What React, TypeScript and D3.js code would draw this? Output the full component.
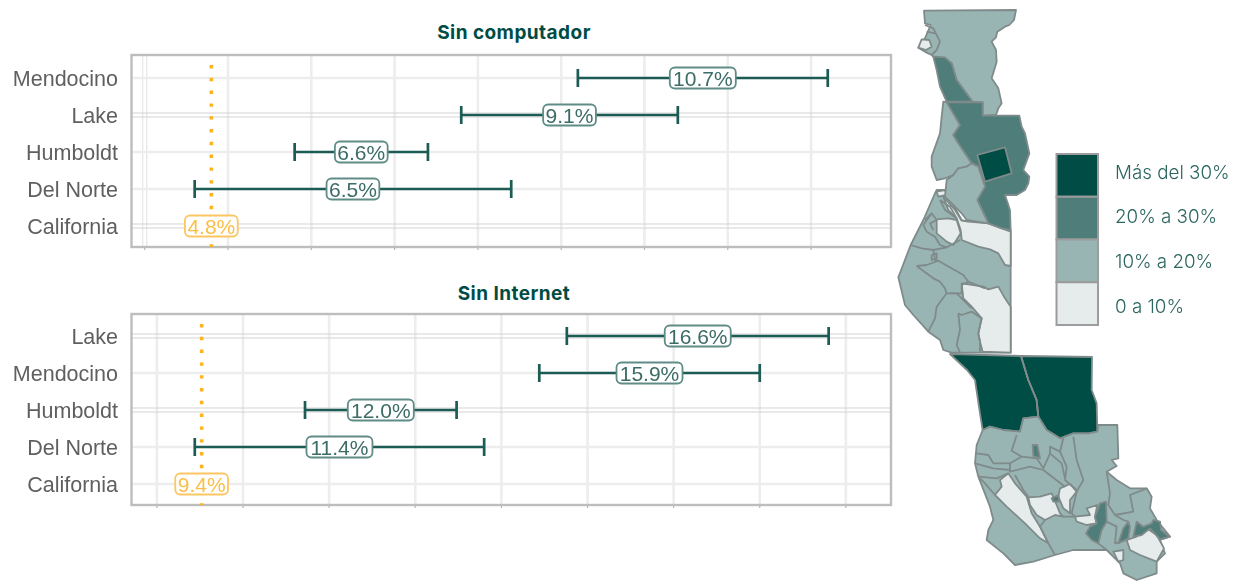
import React from "react";
import * as d3 from "d3";

type Pt = [number, number];
type Row = { name: string; value: number; low?: number; high?: number };

const computerRows: Row[] = [
  { name: "Mendocino", value: 10.7, low: 9.2, high: 12.2 },
  { name: "Lake", value: 9.1, low: 7.8, high: 10.4 },
  { name: "Humboldt", value: 6.6, low: 5.8, high: 7.4 },
  { name: "Del Norte", value: 6.5, low: 4.6, high: 8.4 },
  { name: "California", value: 4.8 },
];
const internetRows: Row[] = [
  { name: "Lake", value: 16.6, low: 14.7, high: 18.5 },
  { name: "Mendocino", value: 15.9, low: 14.3, high: 17.5 },
  { name: "Humboldt", value: 12.0, low: 10.9, high: 13.1 },
  { name: "Del Norte", value: 11.4, low: 9.3, high: 13.5 },
  { name: "California", value: 9.4 },
];
const computerGrid = [4, 5, 6, 7, 8, 9, 10, 11, 12];
const internetGrid = [8.75, 10, 11.25, 12.5, 13.75, 15, 16.25, 17.5, 18.75];
const computerDoubled = ["Lake", "California"];
const internetDoubled = ["Lake", "Humboldt"];

const legendLabels = ["Más del 30%", "20% a 30%", "10% a 20%", "0 a 10%"];
const legendColors = ["#014d45", "#4f7d79", "#99b5b3", "#e6ecec"];

const DARK = legendColors[0], D20 = legendColors[1], MID = legendColors[2], PALE = legendColors[3];

// Map geometry, traced in three local frames (3× source pixels)
const northFills: [string, Pt[]][] = [
  [MID, [[102,32],[378,30],[372,60],[358,75],[345,80],[322,95],[318,112],[305,125],[318,150],[320,185],[305,235],[325,265],[335,310],[325,325],[318,345],[278,347],[278,307],[248,305],[200,240],[185,190],[165,175],[130,170],[125,165],[110,158],[85,143],[105,115],[122,75],[105,70]]],
  [PALE, [[85,143],[95,118],[118,120],[125,140],[108,150]]],
  [D20, [[130,170],[165,172],[185,190],[200,240],[248,305],[170,305],[150,260],[140,210]]],
  [MID, [[160,305],[175,307],[210,375],[190,405],[205,430],[245,490],[230,500],[205,505],[190,525],[165,535],[140,540],[125,500],[125,470],[150,400],[155,350]]],
  [D20, [[170,307],[278,307],[278,347],[388,347],[395,380],[405,400],[418,460],[400,510],[418,530],[415,550],[405,570],[380,585],[345,585],[360,630],[362,690],[335,685],[295,670],[262,600],[270,580],[285,560],[265,500],[245,490],[205,430],[190,405],[210,375]]],
  [DARK, [[262,465],[345,442],[365,520],[285,545]]],
  [MID, [[205,505],[230,500],[245,490],[265,500],[285,560],[262,600],[295,670],[230,660],[215,640],[195,620],[165,590],[170,540],[190,525]]],
];
const northLines: Pt[][] = [
  [[105,75],[130,85],[150,125],[140,150],[125,165]],
  [[110,95],[135,100]],
];
const coastFills: [string, Pt[]][] = [
  [MID, [[135,10],[100,90],[62,165],[25,262],[45,345],[70,375],[115,425],[150,450],[160,480],[185,488],[362,488],[362,120],[335,115],[295,100],[235,95],[215,90],[165,0],[140,0]]],
  [PALE, [[160,20],[195,60],[215,92],[235,95],[295,100],[362,125],[362,228],[345,225],[325,190],[300,178],[265,170],[215,150],[212,120],[200,85],[175,60]]],
  [PALE, [[140,88],[175,85],[200,90],[212,130],[190,165],[170,155],[140,130]]],
  [PALE, [[215,280],[250,285],[280,290],[295,298],[325,290],[345,325],[362,350],[362,488],[278,485],[270,455],[265,430],[275,385],[245,350],[220,325]]],
  [PALE, [[140,5],[165,0],[170,15],[145,20]]],
];
const coastLines: Pt[][] = [
  [[62,165],[95,175],[130,180],[170,172],[210,150]],
  [[130,180],[135,210],[145,212],[220,255],[235,275],[215,285],[215,310],[180,310]],
  [[80,228],[110,225],[145,212]],
  [[80,228],[130,265],[150,275],[165,295],[170,310],[180,310]],
  [[170,310],[140,350],[135,385],[115,425]],
  [[180,310],[200,310],[245,355]],
  [[205,370],[215,375],[245,365],[275,385],[265,430],[270,455],[270,485]],
  [[205,370],[210,420],[200,465],[210,488]],
  [[235,275],[285,295]],
  [[125,70],[100,105],[110,125],[135,140],[150,165],[170,172]],
  [[105,90],[125,70],[140,90],[120,100],[130,120]],
  [[125,195],[140,190],[140,205],[125,210],[125,195]],
  [[150,30],[180,50],[200,85],[165,60],[150,30]],
];
const southFills: [string, Pt[]][] = [
  [DARK, [[-30,-78],[183,-72],[205,0],[230,60],[235,110],[190,115],[180,155],[130,150],[90,140],[68,150],[60,100],[45,0],[21,-30]]],
  [DARK, [[183,-72],[396,-69],[395,30],[410,70],[412,155],[385,160],[340,160],[300,175],[260,150],[235,110],[230,60],[205,0]]],
  [MID, [[68,150],[90,140],[130,150],[180,155],[190,115],[235,110],[260,150],[300,175],[340,160],[385,160],[412,155],[415,135],[472,135],[475,235],[455,240],[470,258],[440,275],[470,300],[510,325],[560,325],[575,350],[570,385],[590,420],[630,470],[600,480],[615,520],[590,545],[590,580],[530,600],[490,580],[480,550],[440,510],[400,510],[340,510],[285,525],[220,545],[165,555],[130,520],[80,480],[85,450],[100,420],[90,380],[55,290],[45,250],[50,195]]],
  [PALE, [[145,280],[165,310],[200,350],[215,400],[240,440],[265,490],[240,475],[195,430],[140,380],[105,345],[125,320],[120,300]]],
  [PALE, [[205,352],[240,350],[275,340],[290,375],[300,400],[310,410],[285,405],[255,420],[230,405],[210,375]]],
  [PALE, [[300,325],[330,312],[350,335],[330,360],[330,400],[310,385],[295,350]]],
  [PALE, [[345,410],[390,405],[380,385],[412,375],[405,410],[410,430],[380,435],[350,425]]],
  [PALE, [[500,480],[530,470],[560,445],[590,465],[612,505],[590,545],[540,525],[510,510]]],
  [PALE, [[460,515],[490,510],[490,540],[475,545]]],
  [D20, [[420,370],[438,365],[440,425],[425,450],[415,490],[395,480],[378,460],[390,440],[410,430],[405,410]]],
  [D20, [[475,490],[490,445],[505,425],[510,440],[505,475],[495,480]]],
  [D20, [[520,470],[530,425],[550,440],[575,430],[580,420],[600,425],[603,450],[630,470],[600,478],[570,445],[545,465]]],
  [D20, [[218,195],[232,195],[240,235],[220,228]]],
  [D20, [[275,355],[295,345],[298,365],[280,365]]],
];
const southLines: Pt[][] = [
  [[50,220],[85,225],[100,250],[150,250],[185,230],[155,212],[170,165]],
  [[185,230],[230,235],[250,265],[270,220],[270,200],[300,215],[310,175]],
  [[300,215],[320,260],[315,300],[350,330]],
  [[340,170],[350,240],[370,300],[350,335],[335,400],[345,410]],
  [[270,220],[305,250],[315,295]],
  [[150,250],[150,275],[170,270],[210,260],[250,270],[315,320]],
  [[165,285],[190,330],[205,350]],
  [[55,290],[110,295],[145,280]],
  [[45,250],[100,265],[150,270]],
  [[105,345],[75,310],[60,295]],
  [[240,440],[265,490],[285,525]],
  [[255,420],[240,440]],
  [[440,275],[450,340],[445,375],[465,405],[520,395],[510,345],[560,325]],
  [[440,425],[470,440],[465,490],[500,480]],
  [[415,490],[440,510]],
  [[465,405],[490,420],[505,425]],
  [[310,410],[345,410]],
  [[183,-72],[205,0],[230,60],[235,110]],
];

const line = d3.line<Pt>().x((d) => d[0] / 3).y((d) => d[1] / 3);
const closedLine = d3.line<Pt>().x((d) => d[0] / 3).y((d) => d[1] / 3).curve(d3.curveLinearClosed);

function MapPiece({ x, y, fills, lines }: { x: number; y: number; fills: [string, Pt[]][]; lines: Pt[][] }) {
  return (
    <g transform={`translate(${x},${y})`} stroke="#7f8b8a" strokeWidth={1.8} strokeLinejoin="round">
      {fills.map(([c, pts], i) => (
        <path key={i} d={closedLine(pts) ?? ""} fill={c} />
      ))}
      {lines.map((pts, i) => (
        <path key={i} d={line(pts) ?? ""} fill="none" />
      ))}
    </g>
  );
}

const CHART_FONT = "'Liberation Sans', Arial, sans-serif";
const UI_FONT = "Inter, 'Open Sans', sans-serif";

function Panel(props: {
  title: string; titleY: number; rows: Row[]; grid: number[]; doubled: string[];
  top: number; bottom: number; yFirst: number; yLast: number;
  x0: number; pxPerUnit: number; v0: number; firstDouble: boolean;
}) {
  const { title, titleY, rows, grid, doubled, top, bottom, yFirst, yLast, x0, pxPerUnit, v0, firstDouble } = props;
  const left = 131.5, right = 891;
  const x = d3.scaleLinear().domain([v0, v0 + 1]).range([x0, x0 + pxPerUnit]);
  const y = d3.scalePoint<string>().domain(rows.map((r) => r.name)).range([yFirst, yLast]);
  const ref = rows[rows.length - 1];
  return (
    <g>
      <text x={514} y={titleY} textAnchor="middle" fontFamily={UI_FONT} fontWeight={700} fontSize={19} letterSpacing={0.45} fill="#004c45">{title}</text>
      <g filter="url(#soft)">
        {grid.map((g, i) => (
          <g key={g}>
            {i === 0 && firstDouble ? (
              <>
                <line x1={x(g) - 2} x2={x(g) - 2} y1={top} y2={bottom} stroke="#e6e6e6" strokeWidth={1.2} />
                <line x1={x(g) + 2} x2={x(g) + 2} y1={top} y2={bottom} stroke="#e6e6e6" strokeWidth={1.2} />
              </>
            ) : (
              <line x1={x(g)} x2={x(g)} y1={top} y2={bottom} stroke="#ededed" strokeWidth={2.6} />
            )}
            <line x1={x(g)} x2={x(g)} y1={bottom} y2={bottom + 3} stroke="#b5b5b5" strokeWidth={1.2} />
          </g>
        ))}
        {rows.map((r) => {
          const yy = y(r.name)!;
          return doubled.includes(r.name) ? (
            <g key={r.name}>
              <line x1={left} x2={right} y1={yy - 2} y2={yy - 2} stroke="#d4d4d4" strokeWidth={1.1} />
              <line x1={left} x2={right} y1={yy + 2} y2={yy + 2} stroke="#d4d4d4" strokeWidth={1.1} />
            </g>
          ) : (
            <line key={r.name} x1={left} x2={right} y1={yy} y2={yy} stroke="#ededed" strokeWidth={2.6} />
          );
        })}
        <rect x={left} y={top} width={right - left} height={bottom - top} fill="none" stroke="#bdbdbd" strokeWidth={2.4} />
        <line x1={x(ref.value)} x2={x(ref.value)} y1={top + 10} y2={bottom} stroke="#fdb31e" strokeWidth={3.6} strokeDasharray="3.4 9.4" />
        {rows.map((r) => {
          const yy = y(r.name)!;
          const isRef = r.low === undefined;
          const label = `${r.value.toFixed(1)}%`;
          const w = label.length * 13.2;
          return (
            <g key={r.name}>
              <text x={118} y={yy + 7.5} textAnchor="end" fontFamily={CHART_FONT} fontSize={21.5} fill="#5f5f5f">{r.name}</text>
              {!isRef && (
                <g stroke="#1a5b54" strokeWidth={2.7}>
                  <line x1={x(r.low!)} x2={x(r.high!)} y1={yy} y2={yy} />
                  <line x1={x(r.low!)} x2={x(r.low!)} y1={yy - 9} y2={yy + 9} />
                  <line x1={x(r.high!)} x2={x(r.high!)} y1={yy - 9} y2={yy + 9} />
                </g>
              )}
              <rect x={x(r.value) - w / 2} y={yy - 10.5} width={w} height={21} rx={5} fill="#ffffff"
                stroke={isRef ? "#fcc663" : "#5f8c86"} strokeWidth={1.8} />
              <text x={x(r.value)} y={yy + 7.5} textAnchor="middle" fontFamily={CHART_FONT} fontSize={21}
                fill={isRef ? "#fbbe47" : "#3d6c66"}>{label}</text>
            </g>
          );
        })}
      </g>
    </g>
  );
}

export default function App() {
  const legendY = d3.scaleBand<string>().domain(legendLabels).range([154, 325]);
  const legendTextY = d3.scalePoint<string>().domain(legendLabels).range([172, 306]);
  return (
    <svg width={1239} height={581} style={{ position: "absolute", left: 0, top: 0, display: "block", background: "#fff" }}>
      <defs>
        <filter id="soft" filterUnits="userSpaceOnUse" x={0} y={0} width={1239} height={581}>
          <feGaussianBlur stdDeviation={0.45} />
        </filter>
        <filter id="softer" filterUnits="userSpaceOnUse" x={0} y={0} width={1239} height={581}>
          <feGaussianBlur stdDeviation={0.6} />
        </filter>
      </defs>
      <Panel title="Sin computador" titleY={39} rows={computerRows} grid={computerGrid} doubled={computerDoubled}
        top={55} bottom={247} yFirst={78} yLast={226} x0={228} pxPerUnit={83.3} v0={5} firstDouble />
      <Panel title="Sin Internet" titleY={300} rows={internetRows} grid={internetGrid} doubled={internetDoubled}
        top={314} bottom={505} yFirst={336} yLast={484} x0={243} pxPerUnit={68.9} v0={10} firstDouble={false} />
      <g filter="url(#softer)">
        <MapPiece x={890} y={190} fills={coastFills} lines={coastLines} />
        <MapPiece x={890} y={0} fills={northFills} lines={northLines} />
        <MapPiece x={960} y={380} fills={southFills} lines={southLines} />
      </g>
      {legendLabels.map((l, i) => (
        <g key={l}>
          <rect x={1056.5} y={legendY(l)!} width={41.5} height={legendY.bandwidth()} fill={legendColors[i]} stroke="#9c9c9c" strokeWidth={2} />
          <text x={1115} y={legendTextY(l)! + 6.5} fontFamily={UI_FONT} fontWeight={300} fontSize={18.8} fill="#2c6660">{l}</text>
        </g>
      ))}
    </svg>
  );
}
